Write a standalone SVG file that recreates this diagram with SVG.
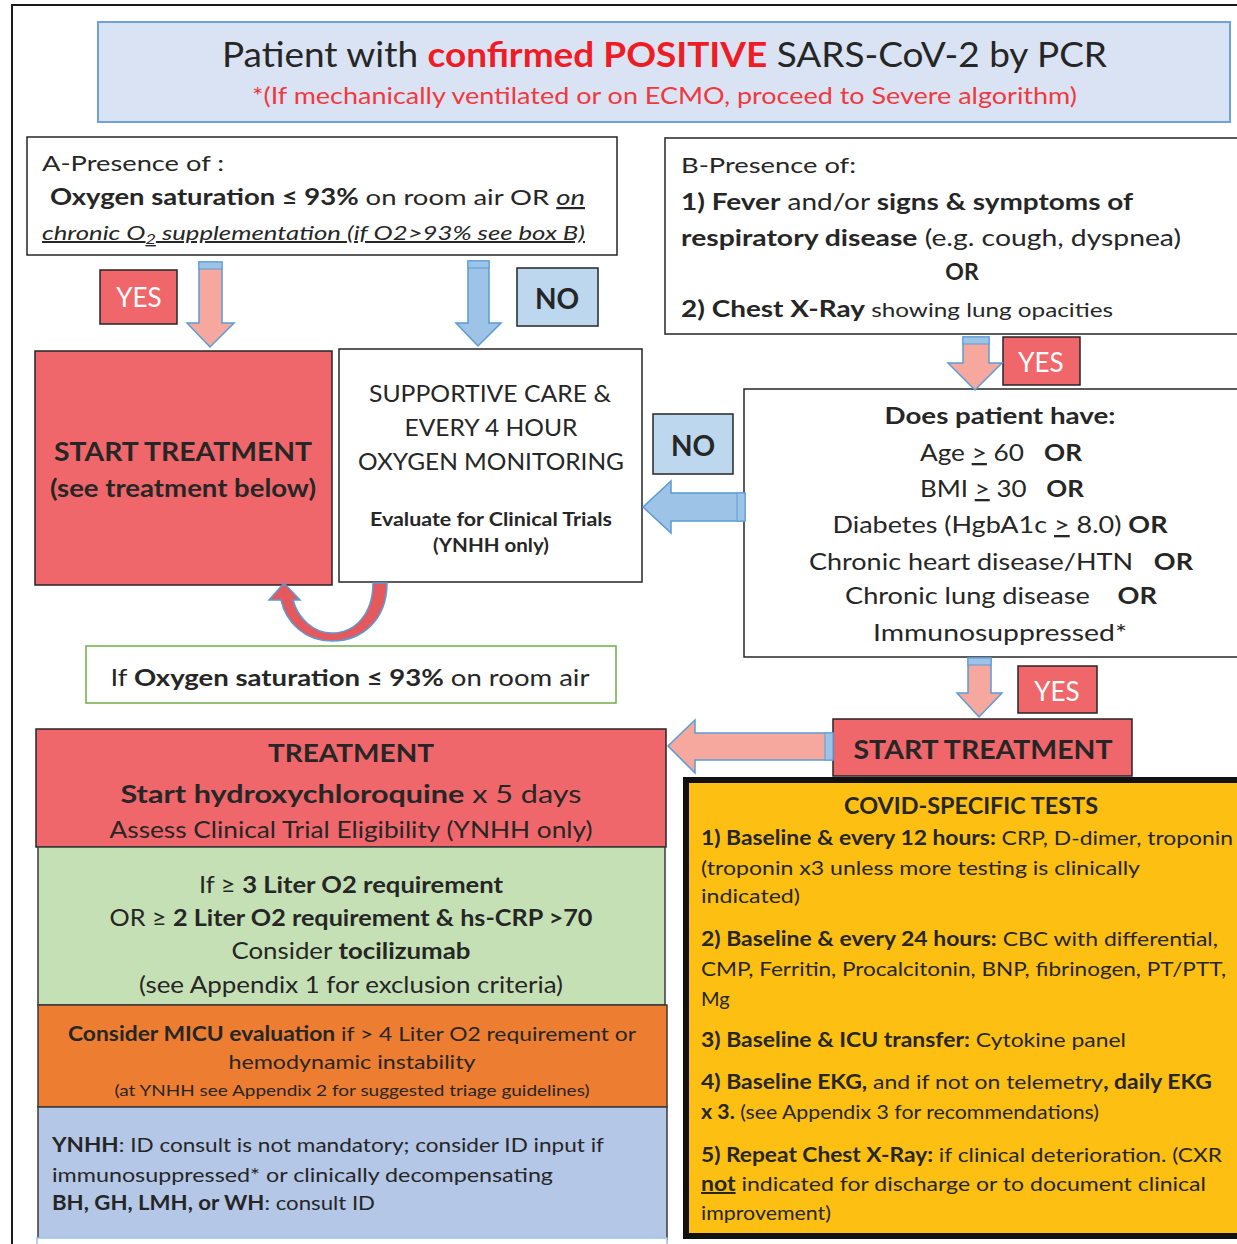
<svg xmlns="http://www.w3.org/2000/svg" width="1237" height="1244" viewBox="0 0 1237 1244">
<style>
text{font-family:Lato,"Open Sans","Liberation Sans",sans-serif;fill:#262626}
.b{font-weight:700}
.i{font-style:italic}
.u{text-decoration:underline}
.m{text-anchor:middle}
.w{fill:#ffffff}
.box{fill:#ffffff;stroke:#262626;stroke-width:1.5}
.red{fill:#f0676b;stroke:#262626;stroke-width:1.5}
.nob{fill:#bdd7ee;stroke:#262626;stroke-width:1.5}
.pa{fill:#f6a89f;stroke:#5b9bd5;stroke-width:1.5}
.ba{fill:#9dc3e6;stroke:#5b9bd5;stroke-width:1.5}
.st{fill:#9dc3e6;stroke:#5b9bd5;stroke-width:1}
</style>
<rect width="1237" height="1244" fill="#ffffff"/>
<path d="M12 1244 V5 H1237" fill="none" stroke="#1a1a1a" stroke-width="2"/>

<g id="title">
<rect x="98" y="22" width="1132" height="100" fill="#dae3f3" stroke="#6fa3d8" stroke-width="2"/>
<text x="222" y="67" font-size="34" textLength="885" lengthAdjust="spacingAndGlyphs">Patient with <tspan class="b" fill="#ee1c25">confirmed POSITIVE</tspan> SARS-CoV-2 by PCR</text>
<text x="252" y="104" font-size="23" textLength="825" lengthAdjust="spacingAndGlyphs" style="fill:#f0393f">*(If mechanically ventilated or on ECMO, proceed to Severe algorithm)</text>
</g>

<g id="boxA">
<rect class="box" x="27" y="137" width="590" height="118"/>
<text x="42" y="171" font-size="22" textLength="182" lengthAdjust="spacingAndGlyphs">A-Presence of :</text>
<text x="50" y="205" font-size="22" textLength="535" lengthAdjust="spacingAndGlyphs"><tspan class="b">Oxygen saturation ≤ 93%</tspan> on room air OR <tspan class="i u">on</tspan></text>
<text class="i u" x="42" y="240" font-size="20" textLength="543" lengthAdjust="spacingAndGlyphs">chronic O<tspan font-size="14" dy="4">2</tspan><tspan dy="-4"> supplementation (if O2&gt;93% see box B)</tspan></text>
</g>

<g id="boxB">
<rect class="box" x="665" y="138" width="600" height="196"/>
<text x="681" y="173" font-size="22" textLength="175" lengthAdjust="spacingAndGlyphs">B-Presence of:</text>
<text x="681" y="210" font-size="23" textLength="452" lengthAdjust="spacingAndGlyphs"><tspan class="b">1) Fever</tspan> and/or <tspan class="b">signs &amp; symptoms of</tspan></text>
<text x="681" y="246" font-size="23" textLength="500" lengthAdjust="spacingAndGlyphs"><tspan class="b">respiratory disease</tspan> (e.g. cough, dyspnea)</text>
<text class="b m" x="962" y="280" font-size="23">OR</text>
<text x="681" y="317" font-size="23" textLength="432" lengthAdjust="spacingAndGlyphs"><tspan class="b">2) Chest X-Ray</tspan><tspan font-size="20"> showing lung opacities</tspan></text>
</g>

<g id="yesA">
<rect class="red" x="100" y="270" width="77" height="54"/>
<text class="w m" x="139" y="307" font-size="26">YES</text>
</g>
<g id="noA">
<rect class="nob" x="517" y="268" width="81" height="58"/>
<text class="b m" x="557" y="309" font-size="28">NO</text>
</g>

<g id="startLeft">
<rect class="red" x="35" y="351" width="297" height="234"/>
<text class="b m" x="183" y="461" font-size="26" textLength="258" lengthAdjust="spacingAndGlyphs">START TREATMENT</text>
<text class="b m" x="183" y="497" font-size="25" textLength="266" lengthAdjust="spacingAndGlyphs">(see treatment below)</text>
</g>

<g id="supportive">
<rect class="box" x="339" y="349" width="303" height="233"/>
<text class="m" x="490" y="402" font-size="23" textLength="242" lengthAdjust="spacingAndGlyphs">SUPPORTIVE CARE &amp;</text>
<text class="m" x="491" y="436" font-size="23" textLength="173" lengthAdjust="spacingAndGlyphs">EVERY 4 HOUR</text>
<text class="m" x="491" y="470" font-size="23" textLength="266" lengthAdjust="spacingAndGlyphs">OXYGEN MONITORING</text>
<text class="b m" x="491" y="526" font-size="18" textLength="242" lengthAdjust="spacingAndGlyphs">Evaluate for Clinical Trials</text>
<text class="b m" x="491" y="552" font-size="18" textLength="116" lengthAdjust="spacingAndGlyphs">(YNHH only)</text>
</g>

<g id="noRight">
<rect class="nob" x="653" y="414" width="80" height="60"/>
<text class="b m" x="693" y="456" font-size="28">NO</text>
</g>

<g id="yesB">
<rect class="red" x="1003" y="337" width="77" height="48"/>
<text class="w m" x="1041" y="372" font-size="26">YES</text>
</g>

<g id="riskFactors">
<rect class="box" x="744" y="389" width="600" height="268"/>
<text class="b m" x="1000" y="424" font-size="23" textLength="231" lengthAdjust="spacingAndGlyphs">Does patient have:</text>
<text class="m" x="1001" y="461" font-size="23" xml:space="preserve" textLength="162" lengthAdjust="spacingAndGlyphs">Age <tspan class="u">&gt;</tspan> 60   <tspan class="b">OR</tspan></text>
<text class="m" x="1002" y="497" font-size="23" xml:space="preserve" textLength="164" lengthAdjust="spacingAndGlyphs">BMI <tspan class="u">&gt;</tspan> 30   <tspan class="b">OR</tspan></text>
<text class="m" x="1000" y="533" font-size="23" xml:space="preserve" textLength="335" lengthAdjust="spacingAndGlyphs">Diabetes (HgbA1c <tspan class="u">&gt;</tspan> 8.0) <tspan class="b">OR</tspan></text>
<text class="m" x="1001" y="570" font-size="23" xml:space="preserve" textLength="384" lengthAdjust="spacingAndGlyphs">Chronic heart disease/HTN   <tspan class="b">OR</tspan></text>
<text class="m" x="1001" y="604" font-size="23" xml:space="preserve" textLength="312" lengthAdjust="spacingAndGlyphs">Chronic lung disease    <tspan class="b">OR</tspan></text>
<text class="m" x="1000" y="641" font-size="23" textLength="254" lengthAdjust="spacingAndGlyphs">Immunosuppressed*</text>
</g>

<g id="ifOxygen">
<rect x="86" y="646" width="530" height="57" fill="#ffffff" stroke="#70ad47" stroke-width="1.5"/>
<text class="m" x="350" y="686" font-size="23" textLength="479" lengthAdjust="spacingAndGlyphs">If <tspan class="b">Oxygen saturation ≤ 93%</tspan> on room air</text>
</g>

<g id="yesC">
<rect class="red" x="1018" y="666" width="79" height="47"/>
<text class="w m" x="1057" y="701" font-size="26">YES</text>
</g>

<g id="startRight">
<rect class="red" x="833" y="719" width="299" height="57"/>
<text class="b m" x="983" y="759" font-size="27" textLength="259" lengthAdjust="spacingAndGlyphs">START TREATMENT</text>
</g>

<g id="treatment">
<rect class="red" x="36" y="729" width="630" height="118"/>
<text class="b m" x="351" y="762" font-size="25" textLength="166" lengthAdjust="spacingAndGlyphs">TREATMENT</text>
<text class="m" x="351" y="803" font-size="25" textLength="461" lengthAdjust="spacingAndGlyphs"><tspan class="b">Start hydroxychloroquine</tspan> x 5 days</text>
<text class="m" x="351" y="838" font-size="23" textLength="483" lengthAdjust="spacingAndGlyphs">Assess Clinical Trial Eligibility (YNHH only)</text>
</g>

<g id="tocilizumab">
<rect x="38" y="847" width="627" height="158" fill="#c5e0b4" stroke="#3a3a3a" stroke-width="1.5"/>
<text class="m" x="351" y="893" font-size="23" textLength="304" lengthAdjust="spacingAndGlyphs">If ≥ <tspan class="b">3 Liter O2 requirement</tspan></text>
<text class="m" x="351" y="926" font-size="23" textLength="483" lengthAdjust="spacingAndGlyphs">OR ≥ <tspan class="b">2 Liter O2 requirement &amp; hs-CRP &gt;70</tspan></text>
<text class="m" x="351" y="959" font-size="23" textLength="239" lengthAdjust="spacingAndGlyphs">Consider <tspan class="b">tocilizumab</tspan></text>
<text class="m" x="351" y="993" font-size="23" textLength="424" lengthAdjust="spacingAndGlyphs">(see Appendix 1 for exclusion criteria)</text>
</g>

<g id="micu">
<rect x="38" y="1005" width="629" height="102" fill="#ed7d31" stroke="#3a3a3a" stroke-width="1.5"/>
<text class="m" x="352" y="1041" font-size="20" textLength="568" lengthAdjust="spacingAndGlyphs"><tspan class="b">Consider MICU evaluation</tspan> if &gt; 4 Liter O2 requirement or</text>
<text class="m" x="352" y="1069" font-size="20" textLength="247" lengthAdjust="spacingAndGlyphs">hemodynamic instability</text>
<text class="m" x="352" y="1096" font-size="15" textLength="475" lengthAdjust="spacingAndGlyphs">(at YNHH see Appendix 2 for suggested triage guidelines)</text>
</g>

<g id="idConsult">
<rect x="38" y="1107" width="629" height="133" fill="#b4c7e7" stroke="#3a3a3a" stroke-width="1.5"/>
<text x="52" y="1152" font-size="20" textLength="552" lengthAdjust="spacingAndGlyphs"><tspan class="b">YNHH</tspan>: ID consult is not mandatory; consider ID input if</text>
<text x="52" y="1182" font-size="20" textLength="501" lengthAdjust="spacingAndGlyphs">immunosuppressed* or clinically decompensating</text>
<text x="52" y="1210" font-size="20" textLength="323" lengthAdjust="spacingAndGlyphs"><tspan class="b">BH, GH, LMH, or WH</tspan>: consult ID</text>
</g>
<rect x="37" y="1238" width="630" height="20" fill="#ffffff" stroke="#9dc3e6" stroke-width="1.5"/>

<g id="covidTests">
<rect x="686" y="780" width="560" height="456" fill="#fcbf12" stroke="#111111" stroke-width="6"/>
<text class="b m" x="971" y="814" font-size="22" textLength="254" lengthAdjust="spacingAndGlyphs">COVID-SPECIFIC TESTS</text>
<text x="701" y="845" font-size="20" textLength="532" lengthAdjust="spacingAndGlyphs"><tspan class="b">1) Baseline &amp; every 12 hours:</tspan> CRP, D-dimer, troponin</text>
<text x="701" y="875" font-size="20" textLength="439" lengthAdjust="spacingAndGlyphs">(troponin x3 unless more testing is clinically</text>
<text x="701" y="903" font-size="20" textLength="99" lengthAdjust="spacingAndGlyphs">indicated)</text>
<text x="701" y="946" font-size="20" textLength="517" lengthAdjust="spacingAndGlyphs"><tspan class="b">2) Baseline &amp; every 24 hours:</tspan> CBC with differential,</text>
<text x="701" y="976" font-size="20" textLength="525" lengthAdjust="spacingAndGlyphs">CMP, Ferritin, Procalcitonin, BNP, fibrinogen, PT/PTT,</text>
<text x="701" y="1006" font-size="20">Mg</text>
<text x="701" y="1047" font-size="20" textLength="425" lengthAdjust="spacingAndGlyphs"><tspan class="b">3) Baseline &amp; ICU transfer:</tspan> Cytokine panel</text>
<text x="701" y="1089" font-size="20" textLength="511" lengthAdjust="spacingAndGlyphs"><tspan class="b">4) Baseline EKG,</tspan> and if not on telemetry<tspan class="b">, daily EKG</tspan></text>
<text x="701" y="1119" font-size="20" textLength="398" lengthAdjust="spacingAndGlyphs"><tspan class="b">x 3.</tspan> (see Appendix 3 for recommendations)</text>
<text x="701" y="1162" font-size="20" textLength="521" lengthAdjust="spacingAndGlyphs"><tspan class="b">5) Repeat Chest X-Ray:</tspan> if clinical deterioration. (CXR</text>
<text x="701" y="1191" font-size="20" textLength="505" lengthAdjust="spacingAndGlyphs"><tspan class="b u">not</tspan> indicated for discharge or to document clinical</text>
<text x="701" y="1220" font-size="20" textLength="130" lengthAdjust="spacingAndGlyphs">improvement)</text>
</g>

<g id="connectors">
<polygon class="pa" points="199,262 222,262 222,323 234,323 210,347 187,323 199,323"/>
<rect class="st" x="199" y="262" width="23" height="7"/>
<polygon class="ba" points="468,261 489,261 489,323 501,323 478,346 456,323 468,323"/>
<rect class="st" x="468" y="261" width="21" height="7"/>
<polygon class="ba" points="745,493 745,521 671,521 671,533 643,507 671,481 671,493"/>
<rect class="st" x="737" y="493" width="8" height="28"/>
<polygon class="pa" points="963,337 989,337 989,363 1002,363 975,390 948,363 963,363"/>
<rect class="st" x="963" y="337" width="26" height="7"/>
<polygon class="pa" points="968,658 991,658 991,693 1002,693 979,717 957,693 968,693"/>
<rect class="st" x="968" y="658" width="23" height="7"/>
<polygon class="pa" points="833,733 833,760 695,760 695,773 668,746 695,720 695,733"/>
<rect class="st" x="825" y="733" width="8" height="27"/>
<path d="M387 583 C387 620 362 641 332 641 C304 641 286 622 281 600 L269 600 L284 583 L300 600 L293 600 C298 618 313 633 332 633 C355 633 373 614 373 583 Z" fill="#e4595d" stroke="#5b9bd5" stroke-width="1.5"/>
</g>
</svg>
